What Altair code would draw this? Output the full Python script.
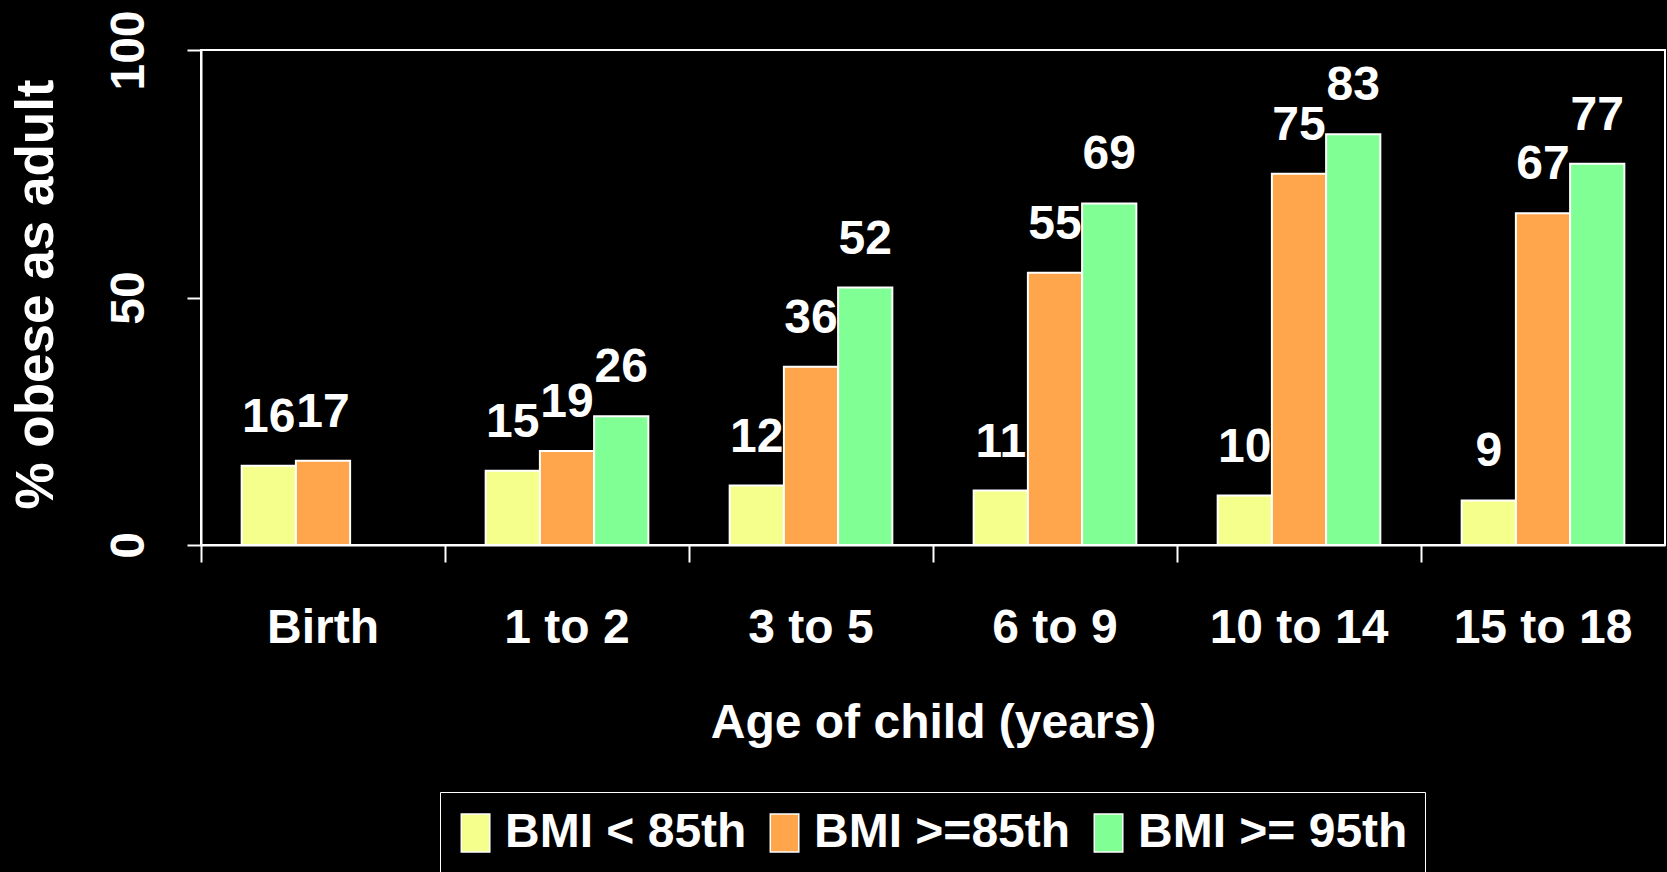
import altair as alt
import pandas as pd

categories = ["Birth", "1 to 2", "3 to 5", "6 to 9", "10 to 14", "15 to 18"]
series = ["BMI < 85th", "BMI >=85th", "BMI >= 95th"]
bmi_lt85 = [16, 15, 12, 11, 10, 9]
bmi_ge85 = [17, 19, 36, 55, 75, 67]
bmi_ge95 = [None, 26, 52, 69, 83, 77]
colors = ["#F5FF8C", "#FFA64D", "#80FF95"]

rows = []
for s, vals in zip(series, [bmi_lt85, bmi_ge85, bmi_ge95]):
    for c, v in zip(categories, vals):
        if v is not None:
            rows.append({"age": c, "group": s, "value": v})
df = pd.DataFrame(rows)

FONT = "Liberation Sans"
W, H = 1464, 495

x = alt.X(
    "age:N",
    sort=categories,
    scale=alt.Scale(paddingInner=0, paddingOuter=0),
    axis=alt.Axis(
        title="Age of child (years)",
        bandPosition=0,
        labelOffset=0,
        labelAngle=0,
        labelBaseline="alphabetic",
        labelPadding=80,
        tickSize=17,
        titleBaseline="alphabetic",
        titleY=192,
    ),
)
xo = alt.XOffset(
    "group:N",
    sort=series,
    scale=alt.Scale(domain=series, paddingInner=0, paddingOuter=0.75),
)
y = alt.Y(
    "value:Q",
    scale=alt.Scale(domain=[0, 100], nice=False),
    axis=alt.Axis(
        title="% obese as adult",
        values=[0, 50, 100],
        labelAngle=270,
        labelAlign="center",
        labelBaseline="alphabetic",
        labelPadding=44,
        tickSize=14,
        titleAngle=270,
        titleAlign="center",
        titleBaseline="alphabetic",
        titleX=-149,
        titleY=244,
        titleFontSize=53,
    ),
)
color = alt.Color(
    "group:N",
    scale=alt.Scale(domain=series, range=colors),
    legend=alt.Legend(
        title=None,
        orient="none",
        legendX=239,
        legendY=742,
        direction="horizontal",
        labelFontSize=48,
        labelFont=FONT,
        labelColor="white",
        labelFontWeight="bold",
        symbolType="M-1.66,-1.6H0.74V1.6H-1.66Z",
        symbolSize=564,
        symbolStrokeColor="white",
        symbolStrokeWidth=1.5,
        symbolOpacity=1,
        labelOffset=0,
        columnPadding=19,
        padding=17,
        strokeColor="white",
        fillColor="black",
        labelLimit=400,
    ),
)

bars = alt.Chart(df).mark_bar(stroke="white", strokeWidth=2).encode(
    x=x, xOffset=xo, y=y, color=color
)
labels = alt.Chart(df).mark_text(
    dy=-34, baseline="alphabetic", align="center", fontSize=48,
    fontWeight="bold", color="white", font=FONT
).encode(x=x, xOffset=xo, y=y, text="value:Q")

chart = (
    alt.layer(bars, labels)
    .properties(
        width=W,
        height=H,
        background="black",
        autosize=alt.AutoSizeParams(type="none"),
        padding={"left": 201, "top": 50, "right": 2, "bottom": 327},
    )
    .configure_view(stroke="white", strokeWidth=2)
    .configure_axis(
        labelFont=FONT,
        titleFont=FONT,
        labelFontSize=48,
        titleFontSize=48,
        labelFontWeight="bold",
        titleFontWeight="bold",
        labelColor="white",
        titleColor="white",
        domainColor="white",
        tickColor="white",
        domainWidth=2,
        tickWidth=2,
        grid=False,
    )
)

chart.save("out.html", embed_options={"renderer": "svg", "actions": False})
